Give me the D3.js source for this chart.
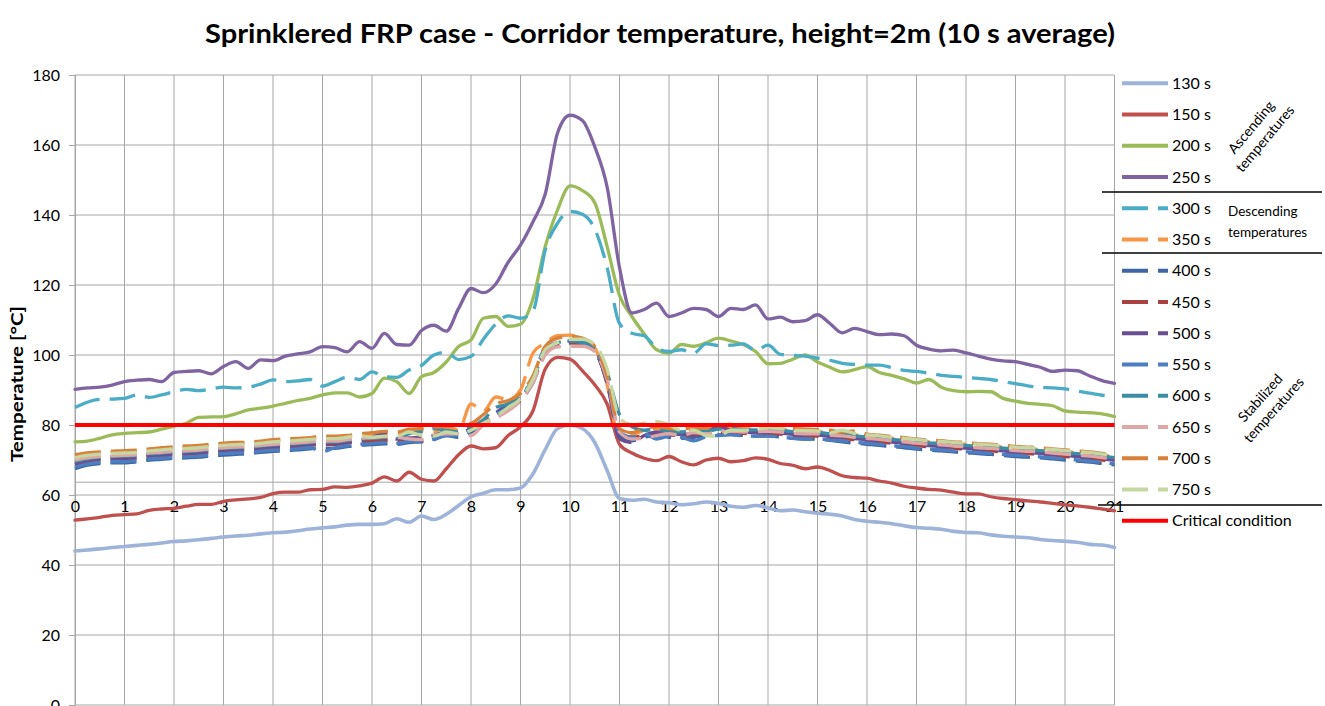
<!DOCTYPE html>
<html>
<head>
<meta charset="utf-8">
<script src="https://cdn.jsdelivr.net/npm/d3@7"></script>
<style>
  html, body { margin: 0; padding: 0; background: #ffffff; }
  svg { display: block; font-family: Lato, "Open Sans", "Liberation Sans", sans-serif; }
</style>
</head>
<body>
<svg id="chart" width="1325" height="706"></svg>
<script>
// Distance along the corridor [m], sampled every 0.25 m
const positions = [
  0,0.25,0.5,0.75, 1,1.25,1.5,1.75, 2,2.25,2.5,2.75, 3,3.25,3.5,3.75,
  4,4.25,4.5,4.75, 5,5.25,5.5,5.75, 6,6.25,6.5,6.75, 7,7.25,7.5,7.75,
  8,8.25,8.5,8.75, 9,9.25,9.5,9.75, 10,10.25,10.5,10.75, 11,11.25,11.5,11.75,
  12,12.25,12.5,12.75, 13,13.25,13.5,13.75, 14,14.25,14.5,14.75, 15,15.25,15.5,15.75,
  16,16.25,16.5,16.75, 17,17.25,17.5,17.75, 18,18.25,18.5,18.75, 19,19.25,19.5,19.75,
  20,20.25,20.5,20.75, 21
];

const xTicks = [0,1,2,3,4,5,6,7,8,9,10,11,12,13,14,15,16,17,18,19,20,21];
const yTicks = [0,20,40,60,80,100,120,140,160,180];
const criticalTemperature = 80;

// Ascending temperatures
const t130 = [
  44,44.3,44.6,45, 45.3,45.6,45.9,46.3, 46.7,46.9,47.2,47.6, 48,48.3,48.5,48.9,
  49.2,49.4,49.8,50.3, 50.6,50.9,51.4,51.6, 51.6,51.8,53.2,52.2, 54,53,54.5,57,
  59.5,60.5,61.5,61.5, 62,66,73,79, 80,79,75,67, 59,58.5,58.8,58,
  57.8,57.2,57.5,58, 57.6,56.8,56.5,57, 56.3,55.5,55.7,55.2, 54.8,54.5,54,53,
  52.5,52.2,51.8,51.2, 50.7,50.5,50.2,49.6, 49.3,49.2,48.6,48.2, 48,47.8,47.3,47,
  46.8,46.5,45.9,45.7, 45
];
const t150 = [
  52.8,53.2,53.6,54.2, 54.4,54.6,55.6,56, 56.2,56.8,57.3,57.3, 58.2,58.6,58.9,59.3,
  60.4,60.8,60.8,61.5, 61.6,62.3,62.2,62.6, 63.4,65.2,64,66.5, 64.5,64,67.5,71.5,
  74,73.2,73.5,77, 79.5,84,96,99.3, 98.8,95.5,91.5,86, 74.5,72,70.5,69.8,
  71,69.5,68.6,70, 70.5,69.5,69.8,70.6, 70.2,69,68.5,67.5, 68,67,65.5,65,
  64.8,64,63.4,62.5, 62,61.6,61.4,60.8, 60.3,60.3,59.5,59, 58.7,58.3,58,57.6,
  57.2,56.9,56.5,56, 55.5
];
const t200 = [
  75.2,75.4,76.2,77.2, 77.6,77.8,78,78.8, 79.7,80.5,82.2,82.3, 82.4,83.2,84.3,84.8,
  85.4,86.2,87,87.6, 88.6,89.2,89.2,88, 89,93.4,92.4,89, 93.8,95,98,102.4,
  104.3,110.5,111,108.2, 108.8,116,131,141.5, 148.3,147,143.5,131, 117,111,106,101.5,
  100.5,103,102.5,103.5, 104.8,104,103,101, 97.5,97.6,98.8,100, 98,96.5,95.2,95.8,
  96.7,95,94.2,93.2, 92,93,90.8,89.8, 89.5,89.6,89.5,87.6, 86.8,86.2,85.9,85.5,
  84,83.7,83.5,83.2, 82.4
];
const t250 = [
  90.2,90.6,90.8,91.4, 92.4,92.8,93,92.4, 95,95.3,95.5,94.6, 96.7,98.1,96.2,98.6,
  98.4,99.7,100.3,100.9, 102.4,102.1,100.9,103.8, 101.9,106.2,103,102.8, 107,108.5,106.8,113.3,
  119,117.8,120.3,126.5, 131.4,138,146,163.5, 168.5,167,159.5,148, 125,112,113,114.8,
  111,112,113.3,113, 111,113.3,113,114.3, 110.3,110.8,109.5,109.8, 111.5,109,106.3,107.6,
  106.7,105.8,106,105.5, 102.8,101.7,101.2,101.4, 100.6,99.7,98.8,98.3, 98.1,97.3,96.5,95.3,
  95.7,95.5,94,92.7, 91.9
];

// Descending temperatures
const t300 = [
  85,86.5,87.3,87.4, 87.6,88.6,87.9,88.6, 89.5,90.2,89.8,90.3, 90.8,90.6,90.8,91.7,
  92.9,92.4,92.6,93, 91.1,92.4,93.6,93, 95.2,93.8,93.6,95.7, 97,100,100.8,98.7,
  99.6,104.5,108.8,111.2, 110.5,112.5,130,137.7, 141,140.2,136,125, 109,106.2,105.5,102,
  101,101.5,100.5,103.2, 102.7,102.8,103.2,101.3, 102.8,100.2,99.9,99.7, 99.1,98.5,97.6,97.3,
  97.1,97.1,96.4,95.6, 95.3,94.8,94.2,93.9, 93.6,93.3,93,92.4, 91.8,91.2,90.7,90.6,
  90.3,89.7,89.1,88.5, 88.1
];
const t350 = [
  71,71.6,72,72.2, 72.3,72.5,73,73.2, 73.5,73.6,73.8,74.2, 74.5,74.7,74.8,75.2,
  75.5,75.7,75.9,76.2, 76.4,76.4,76.8,77.2, 77.4,77.7,77.5,78.3, 78.5,78,79.5,78.5,
  86,84,88,87.2, 90,100.5,103.5,105.5, 105.7,104.5,102,91.5, 76,77,78.5,79,
  78.5,78.3,78.6,78.7, 79.2,79.4,79,78.9, 79,78.8,78.4,78.2, 78.2,77.8,77.6,77.2,
  76.9,76.6,76.2,75.9, 75.5,75.2,75,74.7, 74.5,74.2,74,73.7, 73.4,73.2,73,72.7,
  72.4,72.1,71.8,71.4, 71
];

// Stabilized temperatures
const t400 = [
  67.5,68.5,69,69.2, 69.2,69.5,70,70.2, 70.5,70.6,70.8,71.2, 71.4,71.6,71.8,72.2,
  72.5,72.6,72.9,73.2, 73.4,73.3,73.8,74.2, 74.4,74.6,74.5,75, 75.2,75.8,77,76.5,
  78,80,83,84.5, 87,92,100.5,103.2, 103.5,103,101,92, 77,75.5,76.5,77,
  76.5,76.2,76.5,77, 77.2,77.3,77,76.8, 76.9,76.6,76.2,76, 76,75.6,75.2,74.8,
  74.5,74.2,73.8,73.5, 73.1,72.8,72.6,72.3, 72.1,71.8,71.6,71.3, 71,70.8,70.6,70.3,
  70,69.7,69.4,69, 68.6
];
const t450 = [
  68.7,69.5,70,70.2, 70.2,70.5,71,71.2, 71.5,71.6,71.8,72.2, 72.5,72.7,72.8,73.2,
  73.5,73.7,73.9,74.2, 74.4,74.4,74.8,75.2, 75.4,75.6,75.5,76.2, 75.5,76.5,78,77.5,
  79,80.5,83.5,84.5, 87,92.5,101,103, 103.5,103,101,92.5, 78,76.5,77,77.8,
  77.2,77,77.2,77.3, 77.6,78,77.6,77.4, 77.6,77.4,77,76.8, 76.8,76.4,76.2,75.8,
  75.5,75.2,74.8,74.5, 74.1,73.8,73.6,73.3, 73.1,72.8,72.6,72.3, 72,71.8,71.6,71.3,
  71,70.7,70.4,70, 69.6
];
const t500 = [
  69,69.8,70.3,70.5, 70.5,70.8,71.3,71.5, 71.8,71.9,72.1,72.5, 72.8,73,73.1,73.5,
  73.8,74,74.2,74.5, 74.7,74.7,75.1,75.5, 76.5,77.5,76,76.3, 76.5,77,78,77.5,
  79,80.5,83.5,86, 88,93,101.5,103.5, 104,103.5,101.5,92, 76,75,77,78,
  77.5,77.3,77.5,78, 79.5,78.5,78,77.8, 78,77.7,77.3,77.1, 77.1,76.7,76.5,76.1,
  75.8,75.5,75.1,74.8, 74.4,74.1,73.9,73.6, 73.4,73.1,72.9,72.6, 72.3,72.1,71.9,71.6,
  71.3,71,70.7,70.3, 69.9
];
const t550 = [
  68,68.8,69.3,69.5, 69.5,69.8,70.3,70.5, 70.8,70.9,71.1,71.5, 71.8,72,72.1,72.5,
  72.8,73,73.2,73.5, 72.4,73.5,74.1,74.5, 74.7,75,74.8,75.3, 75.5,76,77,77,
  78.5,80,83,85, 87.5,93.5,102,103.5, 104,103.5,101.5,93, 78,76.5,77.5,76,
  76.8,76.5,75.5,76.6, 77,77.2,76.9,76.8, 76.8,76.6,76.2,76, 76.1,75.7,75.5,75.1,
  74.8,74.5,74.1,73.8, 73.4,73.1,72.9,72.6, 72.4,72.1,71.9,71.6, 71.3,71.1,70.9,70.6,
  70.3,70,69.7,69.3, 68.9
];
const t600 = [
  69.5,70.3,70.8,71, 71.1,71.3,71.8,72, 72.3,72.4,72.6,73, 73.3,73.5,73.6,74,
  74.3,74.5,74.7,75, 75.2,75.2,75.6,76, 76.2,76.5,76.3,77.5, 78.2,79,78.5,78,
  79.5,81.5,85,86, 88.5,93,101.5,103.5, 104,103.8,102,95, 83,79.5,78.5,78.8,
  78.2,78,78.3,78.2, 78.8,79,78.7,78.6, 78.7,78.5,78.1,77.9, 77.9,77.5,77.3,76.9,
  76.6,76.3,75.9,75.6, 75.2,74.9,74.7,74.4, 74.2,73.9,73.7,73.4, 73.1,72.9,72.7,72.4,
  72.1,71.8,71.5,71.1, 70.7
];
const t650 = [
  70,70.6,71,71.2, 71.3,71.5,72,72.2, 72.5,72.6,72.8,73.2, 73.5,73.7,73.8,74.2,
  74.5,74.7,74.9,75.2, 75.4,75.4,75.8,76.2, 76.4,76.7,76.5,76, 75.8,77,77.5,77.5,
  77,80,82,84, 87,92,100,102.3, 102.5,102.5,101,93, 78,76,76.2,77,
  77.5,77,77.8,77.5, 78,78.2,78,78.1, 78.2,78,77.6,77.5, 77.5,77.1,76.9,76.5,
  76.2,75.9,75.5,75.2, 74.8,74.5,74.3,74, 73.8,73.5,73.3,73, 72.7,72.5,72.3,72,
  71.7,71.4,71.1,70.7, 70.3
];
const t700 = [
  71.5,72,72.3,72.5, 72.7,72.8,73.2,73.5, 73.8,74,74.2,74.5, 74.8,75,75.1,75.4,
  75.8,76,76.2,76.4, 76.8,76.8,77,77.5, 77.8,78.2,78,78.8, 79,79.5,79.5,80,
  80.5,83,86,87, 89,94,102.5,104.8, 105.3,104.8,102.5,94, 79,77.8,79,79.5,
  79,78.8,79.2,79.3, 80,80.2,79.8,80.2, 79.6,79.4,79,78.8, 78.7,78.5,78,78.3,
  77.4,77.1,76.7,76.4, 76,75.7,75.5,75.2, 75,74.7,74.5,74.2, 73.9,73.7,73.5,73.2,
  72.9,72.6,72.3,71.9, 71.5
];
const t750 = [
  70.7,71.3,71.7,71.9, 72,72.2,72.6,72.9, 73.2,73.3,73.5,73.9, 74.2,74.4,74.5,74.8,
  75.2,75.4,75.6,75.9, 76.1,76.1,76.5,76.9, 76.5,76.8,76.8,78, 77,76.8,78,77.5,
  78.5,80.5,82.5,85, 87.5,93,101.5,103.5, 104.5,104.5,103,96, 82,80,80.5,81,
  80,78.5,78.5,77, 76.8,78.5,78.5,78.8, 79.2,79,78.6,78.4, 78.3,77.8,78.5,77.6,
  77.2,76.9,76.5,76.2, 75.8,75.5,75.3,75, 74.8,74.5,74.3,74, 73.7,73.5,73.3,73,
  72.7,72.4,72.1,71.7, 71.3
];

const seriesNames = ["130 s","150 s","200 s","250 s","300 s","350 s","400 s","450 s",
                     "500 s","550 s","600 s","650 s","700 s","750 s"];
const seriesValues = [t130,t150,t200,t250,t300,t350,t400,t450,t500,t550,t600,t650,t700,t750];
const seriesColors = ["#9db3d9","#c0504d","#9bbb59","#8064a2","#4bacc6","#f79646","#3d66a3",
                      "#a8413f","#6a4e92","#4b7fc2","#3a8da2","#dea6a5","#d8813a","#c5d8a2"];
const seriesDashed = [false,false,false,false,true,true,true,true,true,true,true,true,true,true];
const criticalName = "Critical condition";

const svg = d3.select("#chart");
const x = d3.scaleLinear().domain([0, 21]).range([75, 1114.5]);
const y = d3.scaleLinear().domain([0, 180]).range([705, 75]);
const gridColor = "#a6a6a6";

// Title
svg.append("text")
  .attr("x", 660).attr("y", 43)
  .attr("text-anchor", "middle")
  .attr("font-size", 27).attr("font-weight", "bold")
  .attr("textLength", 910).attr("lengthAdjust", "spacingAndGlyphs")
  .text("Sprinklered FRP case - Corridor temperature, height=2m (10 s average)");

// Gridlines
const grid = svg.append("g");
grid.selectAll("line.h").data(yTicks).join("line").attr("class", "h")
  .attr("x1", x(0)).attr("x2", x(21))
  .attr("y1", d => y(d)).attr("y2", d => y(d))
  .attr("stroke", gridColor).attr("stroke-width", 1);
grid.selectAll("line.v").data(xTicks).join("line").attr("class", "v")
  .attr("x1", d => x(d)).attr("x2", d => x(d))
  .attr("y1", y(180)).attr("y2", y(0))
  .attr("stroke", gridColor).attr("stroke-width", 1);

// Value axis
const yAxis = svg.append("g")
  .attr("transform", `translate(${x(0)},0)`)
  .call(d3.axisLeft(y).tickValues(yTicks).tickSize(6).tickPadding(9).tickFormat(d3.format("d")));
yAxis.select(".domain").attr("stroke", gridColor);
yAxis.selectAll(".tick line").attr("stroke", gridColor);
yAxis.selectAll(".tick text").attr("font-size", 16).attr("fill", "#000")
  .attr("font-family", "Lato, 'Open Sans', sans-serif");

svg.append("text")
  .attr("transform", "translate(23,384) rotate(-90)")
  .attr("text-anchor", "middle")
  .attr("font-size", 17).attr("font-weight", "bold")
  .attr("textLength", 156).attr("lengthAdjust", "spacingAndGlyphs")
  .text("Temperature [°C]");

// Category axis, crossing the value axis a little above 60 °C
const xCross = 63.8;
const xAxis = svg.append("g")
  .attr("transform", `translate(0,${y(xCross)})`)
  .call(d3.axisBottom(x).tickValues(xTicks).tickSize(0).tickPadding(19).tickFormat(d3.format("d")));
xAxis.select(".domain").attr("stroke", gridColor);
xAxis.selectAll(".tick text").attr("font-size", 16).attr("fill", "#000")
  .attr("font-family", "Lato, 'Open Sans', sans-serif");

// Temperature profiles
const line = d3.line()
  .x((d, i) => x(positions[i]))
  .y(d => y(d))
  .curve(d3.curveMonotoneX);

const plot = svg.append("g");
seriesValues.forEach((vals, k) => {
  plot.append("path")
    .datum(vals)
    .attr("d", line)
    .attr("fill", "none")
    .attr("stroke", seriesColors[k])
    .attr("stroke-width", k === 0 ? 3.6 : 3.3)
    .attr("stroke-linejoin", "round")
    .attr("stroke-linecap", seriesDashed[k] ? "butt" : "round")
    .attr("stroke-dasharray", seriesDashed[k] ? "26,10" : null);
});

// Critical condition
plot.append("line")
  .attr("x1", x(0)).attr("x2", x(21))
  .attr("y1", y(criticalTemperature)).attr("y2", y(criticalTemperature))
  .attr("stroke", "#ff0000").attr("stroke-width", 4);

// Legend
const legend = svg.append("g");
const legendTop = 83.3, legendStep = 31.25;
const legendNames = seriesNames.concat([criticalName]);
const legendColors = seriesColors.concat(["#ff0000"]);
const legendDashed = seriesDashed.concat([false]);
legendNames.forEach((name, k) => {
  const ly = legendTop + k * legendStep;
  legend.append("line")
    .attr("x1", 1122).attr("x2", 1168).attr("y1", ly).attr("y2", ly)
    .attr("stroke", legendColors[k]).attr("stroke-width", 4)
    .attr("stroke-dasharray", legendDashed[k] ? "26,10" : null);
  legend.append("text")
    .attr("x", 1172).attr("y", ly).attr("dy", "0.35em")
    .attr("font-size", 16).attr("fill", "#000")
    .text(name);
});

// Group separators
[192, 253, 505].forEach(sy => {
  legend.append("line")
    .attr("x1", sy === 505 ? 1098 : 1102).attr("x2", 1322)
    .attr("y1", sy).attr("y2", sy)
    .attr("stroke", "#000").attr("stroke-width", 1.5);
});

// Group captions
function caption(cx, cy, angle, lines) {
  const g = legend.append("g").attr("transform", `translate(${cx},${cy}) rotate(${angle})`);
  lines.forEach((t, i) => {
    g.append("text")
      .attr("x", 0).attr("y", (i - (lines.length - 1) / 2) * 18)
      .attr("dy", "0.35em")
      .attr("text-anchor", "middle")
      .attr("font-size", 14).attr("fill", "#000")
      .text(t);
  });
}
caption(1258, 133, -50, ["Ascending", "temperatures"]);
caption(1267, 404, -48, ["Stabilized", "temperatures"]);
legend.append("text").attr("x", 1228).attr("y", 211).attr("dy", "0.35em")
  .attr("font-size", 13.5).text("Descending");
legend.append("text").attr("x", 1228).attr("y", 232).attr("dy", "0.35em")
  .attr("font-size", 13.5).text("temperatures");
</script>
</body>
</html>
